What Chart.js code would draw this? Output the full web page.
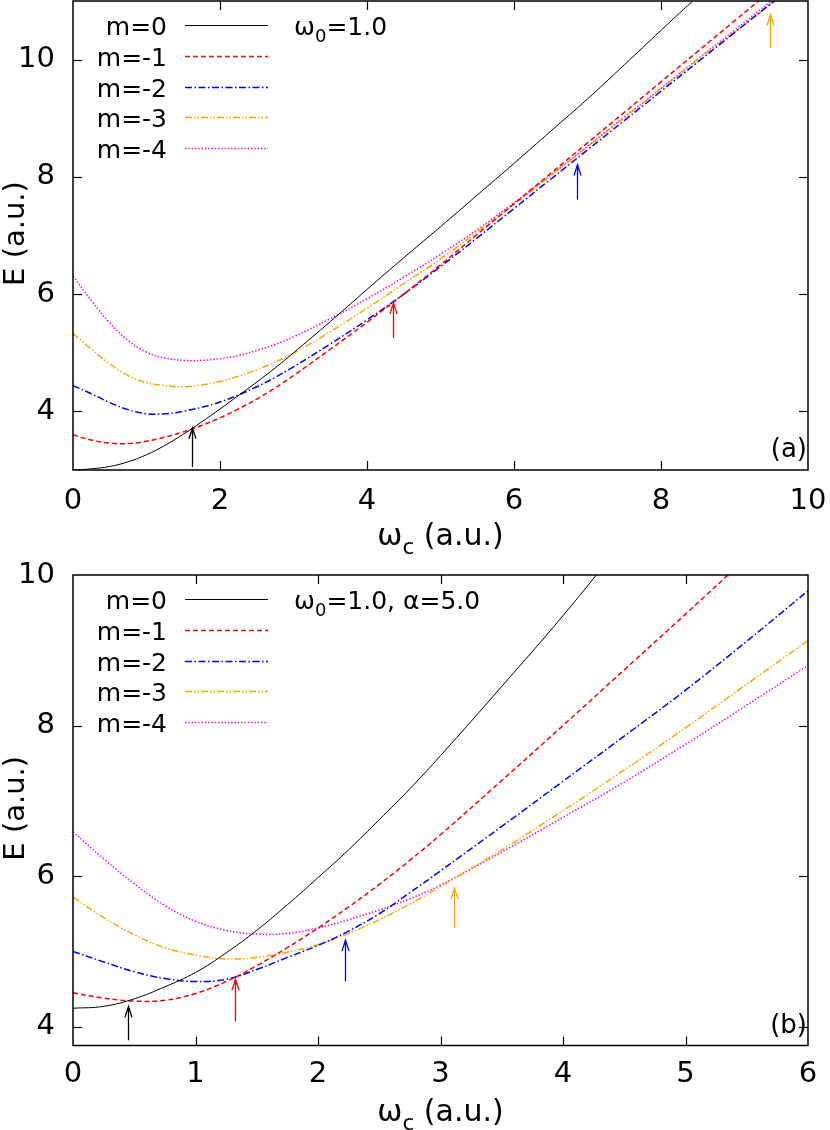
<!DOCTYPE html>
<html>
<head>
<meta charset="utf-8">
<title>E vs omega_c</title>
<script src="https://cdn.jsdelivr.net/npm/chart.js@4.4.0/dist/chart.umd.min.js"></script>
<style>
  body { margin: 0; background: #fff; }
  #wrap { position: relative; width: 830px; height: 1130px; }
  canvas { position: absolute; left: 0; }
</style>
</head>
<body>
<div id="wrap">
  <canvas id="chart-a" width="830" height="555" style="top:0"></canvas>
  <canvas id="chart-b" width="830" height="575" style="top:555px"></canvas>
</div>
<script>
const SERIES_NAMES = ['m=0', 'm=-1', 'm=-2', 'm=-3', 'm=-4'];
const SERIES_COLORS = ['#000000', '#ff0000', '#0000ff', '#ffa500', '#ff00ff'];
const SERIES_DASH = [[], [5, 3], [7, 2.5, 1.5, 2.5], [7, 2, 1.5, 2, 1.5, 2], [1.5, 1.8]];
const SERIES_WIDTH = [1, 1.5, 1.5, 1.5, 1.5];

// panel (a): omega_0 = 1.0
const wcA = [0, 0.25, 0.5, 0.75, 1, 1.25, 1.5, 1.75, 2, 2.25, 2.5, 2.75, 3, 3.5, 4, 4.5, 5, 5.5, 6, 6.5, 7, 7.5, 8, 8.5, 9, 9.5, 10];
const m0A = [3.00, 3.02, 3.06, 3.14, 3.26, 3.42, 3.61, 3.82, 4.04, 4.27, 4.50, 4.74, 5.00, 5.53, 6.08, 6.62, 7.15, 7.69, 8.23, 8.78, 9.33, 9.91, 10.50, 11.08, null, null, null];
const m1A = [3.60, 3.51, 3.46, 3.45, 3.49, 3.56, 3.65, 3.76, 3.89, 4.04, 4.21, 4.40, 4.61, 5.06, 5.52, 6.00, 6.50, 7.02, 7.54, 8.06, 8.58, 9.10, 9.62, 10.14, 10.66, 11.18, null];
const m2A = [4.44, 4.30, 4.15, 4.03, 3.96, 3.96, 4.00, 4.07, 4.16, 4.28, 4.42, 4.58, 4.76, 5.15, 5.56, 6.00, 6.47, 6.96, 7.46, 7.96, 8.46, 8.96, 9.46, 9.96, 10.46, 10.96, 11.46];
const m3A = [5.33, 5.06, 4.81, 4.61, 4.49, 4.44, 4.42, 4.45, 4.51, 4.60, 4.71, 4.84, 4.99, 5.36, 5.76, 6.18, 6.60, 7.06, 7.53, 8.02, 8.51, 9.01, 9.50, 10.00, 10.47, 10.95, 11.44];
const m4A = [6.31, 5.89, 5.51, 5.21, 5.01, 4.91, 4.87, 4.87, 4.90, 4.95, 5.04, 5.14, 5.27, 5.58, 5.92, 6.29, 6.68, 7.10, 7.56, 8.03, 8.52, 9.02, 9.51, 10.01, 10.50, 11.00, 11.49];
const xTicksA = [0, 2, 4, 6, 8, 10];
const yTicksA = [4, 6, 8, 10];
const arrowWcA = [1.62, 4.35, 6.86, 9.48];
const arrowTipA = [3.72, 5.85, 8.21, 10.77];
const arrowTailA = [3.05, 5.25, 7.61, 10.20];

// panel (b): omega_0 = 1.0, alpha = 5.0
const wcB = [0, 0.25, 0.5, 0.75, 1, 1.25, 1.5, 1.75, 2, 2.25, 2.5, 2.75, 3, 3.5, 4, 4.5, 5, 5.5, 6];
const m0B = [4.245, 4.27, 4.37, 4.53, 4.72, 4.98, 5.28, 5.62, 5.98, 6.35, 6.75, 7.16, 7.60, 8.52, 9.46, 10.46, null, null, null];
const m1B = [4.45, 4.38, 4.34, 4.35, 4.44, 4.60, 4.81, 5.05, 5.31, 5.59, 5.89, 6.21, 6.55, 7.27, 8.00, 8.74, 9.48, 10.23, null];
const m2B = [5.00, 4.86, 4.73, 4.64, 4.60, 4.63, 4.76, 4.92, 5.08, 5.27, 5.50, 5.78, 6.07, 6.66, 7.26, 7.86, 8.47, 9.12, 9.79];
const m3B = [5.72, 5.45, 5.22, 5.05, 4.95, 4.90, 4.92, 4.99, 5.09, 5.24, 5.42, 5.63, 5.86, 6.35, 6.87, 7.41, 7.97, 8.55, 9.13];
const m4B = [6.59, 6.23, 5.90, 5.61, 5.40, 5.28, 5.23, 5.24, 5.31, 5.42, 5.55, 5.70, 5.88, 6.32, 6.78, 7.25, 7.75, 8.27, 8.80];
const xTicksB = [0, 1, 2, 3, 4, 5, 6];
const yTicksB = [4, 6, 8, 10];
const arrowWcB = [0.445, 1.32, 2.22, 3.11];
const arrowTipB = [4.27, 4.63, 5.15, 5.84];
const arrowTailB = [3.82, 4.07, 4.60, 5.31];

const NOTE_A = [['ω', 0], ['0', 1], ['=1.0', 0]];
const NOTE_B = [['ω', 0], ['0', 1], ['=1.0, α=5.0', 0]];
const X_TITLE = [['ω', 0], ['c', 1], [' (a.u.)', 0]];
const Y_TITLE = 'E (a.u.)';

const FAMILY = '"DejaVu Sans", sans-serif';
Chart.defaults.font.family = FAMILY;
Chart.defaults.color = '#000';
const font = (size) => `${size}px ${FAMILY}`;

function richText(ctx, parts, x, y, size, align) {
  const widths = parts.map(([t, sub]) => { ctx.font = font(sub ? size * 0.72 : size); return ctx.measureText(t).width; });
  const total = widths.reduce((a, b) => a + b, 0);
  let cx = align === 'center' ? x - total / 2 : align === 'right' ? x - total : x;
  ctx.textAlign = 'left';
  ctx.textBaseline = 'alphabetic';
  parts.forEach(([t, sub], i) => {
    ctx.font = font(sub ? size * 0.72 : size);
    ctx.fillText(t, cx, sub ? y + size * 0.3 : y);
    cx += widths[i];
  });
}

function line(ctx, x1, y1, x2, y2) {
  ctx.beginPath(); ctx.moveTo(x1, y1); ctx.lineTo(x2, y2); ctx.stroke();
}

// frame, inward ticks, legend, arrows and labels in gnuplot style
function decor(panel) {
  return {
    id: 'decor',
    afterDatasetsDraw(chart) {
      const { ctx, chartArea: a, scales: { x, y } } = chart;
      ctx.save();
      ctx.setLineDash([]);

      panel.arrowWc.forEach((wc, i) => {
        const px = Math.round(x.getPixelForValue(wc)) + 0.5;
        const tip = y.getPixelForValue(panel.arrowTip[i]);
        const tail = y.getPixelForValue(panel.arrowTail[i]);
        ctx.strokeStyle = SERIES_COLORS[i];
        ctx.lineWidth = 1.3;
        ctx.beginPath();
        ctx.moveTo(px, tail); ctx.lineTo(px, tip);
        ctx.moveTo(px - 3.5, tip + 11); ctx.lineTo(px, tip); ctx.lineTo(px + 3.5, tip + 11);
        ctx.stroke();
      });

      ctx.strokeStyle = '#000';
      ctx.lineWidth = 1.5;
      ctx.strokeRect(a.left, a.top, a.right - a.left, a.bottom - a.top);
      ctx.lineWidth = 1.2;
      x.ticks.forEach((t) => {
        const px = Math.round(x.getPixelForValue(t.value)) + 0.5;
        if (px < a.left + 2 || px > a.right - 2) return;
        line(ctx, px, a.bottom, px, a.bottom - 9);
        line(ctx, px, a.top, px, a.top + 9);
      });
      y.ticks.forEach((t) => {
        const py = Math.round(y.getPixelForValue(t.value)) + 0.5;
        if (py < a.top + 2 || py > a.bottom - 2) return;
        line(ctx, a.left, py, a.left + 9, py);
        line(ctx, a.right, py, a.right - 9, py);
      });

      ctx.fillStyle = '#000';
      SERIES_NAMES.forEach((name, i) => {
        const ly = Math.round(a.top + 24 + i * 30.8) + 0.5;
        ctx.font = font(25);
        ctx.textAlign = 'right';
        ctx.textBaseline = 'alphabetic';
        ctx.fillText(name, 167, ly + 9.5);
        ctx.strokeStyle = SERIES_COLORS[i];
        ctx.lineWidth = SERIES_WIDTH[i];
        ctx.setLineDash(SERIES_DASH[i]);
        line(ctx, 185, ly, 268, ly);
      });
      ctx.setLineDash([]);

      richText(ctx, panel.note, 294, a.top + 33.5, 25, 'left');

      ctx.font = font(26);
      ctx.textAlign = 'right';
      ctx.fillText(panel.letter, 807, a.bottom - 13);

      richText(ctx, X_TITLE, (a.left + a.right) / 2, a.bottom + 75, 30, 'center');

      ctx.translate(24, (a.top + a.bottom) / 2 - 2);
      ctx.rotate(-Math.PI / 2);
      ctx.font = font(29);
      ctx.textAlign = 'center';
      ctx.textBaseline = 'alphabetic';
      ctx.fillText(Y_TITLE, 0, 0);
      ctx.restore();
    }
  };
}

function buildChart(canvasId, panel) {
  const datasets = panel.series.map((vals, i) => ({
    label: SERIES_NAMES[i],
    data: panel.wc.map((w, j) => ({ x: w, y: vals[j] })).filter((p) => p.y !== null),
    borderColor: SERIES_COLORS[i],
    borderWidth: SERIES_WIDTH[i],
    borderDash: SERIES_DASH[i],
    pointRadius: 0,
    fill: false,
    tension: 0.4
  }));
  return new Chart(document.getElementById(canvasId), {
    type: 'line',
    data: { datasets },
    options: {
      responsive: false,
      animation: false,
      devicePixelRatio: 1,
      layout: { autoPadding: false, padding: { left: 0, right: 22, top: panel.padTop, bottom: 0 } },
      plugins: { legend: { display: false }, tooltip: { enabled: false } },
      scales: {
        x: {
          type: 'linear', min: panel.xMin, max: panel.xMax,
          afterBuildTicks: (s) => { s.ticks = panel.xTicks.map((v) => ({ value: v })); },
          ticks: { font: { size: 29 }, color: '#000', padding: panel.xPad, maxRotation: 0, autoSkip: false },
          grid: { display: false, drawTicks: false },
          border: { display: false },
          afterFit: (s) => { s.height = panel.xAxisH; s.paddingLeft = 0; s.paddingRight = 0; }
        },
        y: {
          type: 'linear', min: panel.yMin, max: panel.yMax,
          afterBuildTicks: (s) => { s.ticks = panel.yTicks.map((v) => ({ value: v })); },
          ticks: { font: { size: 29 }, color: '#000', padding: 18, autoSkip: false },
          grid: { display: false, drawTicks: false },
          border: { display: false },
          afterFit: (s) => { s.width = 73; s.paddingTop = 0; s.paddingBottom = 0; }
        }
      }
    },
    plugins: [decor(panel)]
  });
}

buildChart('chart-a', {
  wc: wcA, series: [m0A, m1A, m2A, m3A, m4A],
  xMin: 0, xMax: 10, yMin: 3, yMax: 11, xTicks: xTicksA, yTicks: yTicksA,
  padTop: 1, xAxisH: 85, xPad: 14,
  arrowWc: arrowWcA, arrowTip: arrowTipA, arrowTail: arrowTailA,
  note: NOTE_A, letter: '(a)'
});

buildChart('chart-b', {
  wc: wcB, series: [m0B, m1B, m2B, m3B, m4B],
  xMin: 0, xMax: 6, yMin: 3.75, yMax: 10, xTicks: xTicksB, yTicks: yTicksB,
  padTop: 20, xAxisH: 84.5, xPad: 12,
  arrowWc: arrowWcB, arrowTip: arrowTipB, arrowTail: arrowTailB,
  note: NOTE_B, letter: '(b)'
});
</script>
</body>
</html>
